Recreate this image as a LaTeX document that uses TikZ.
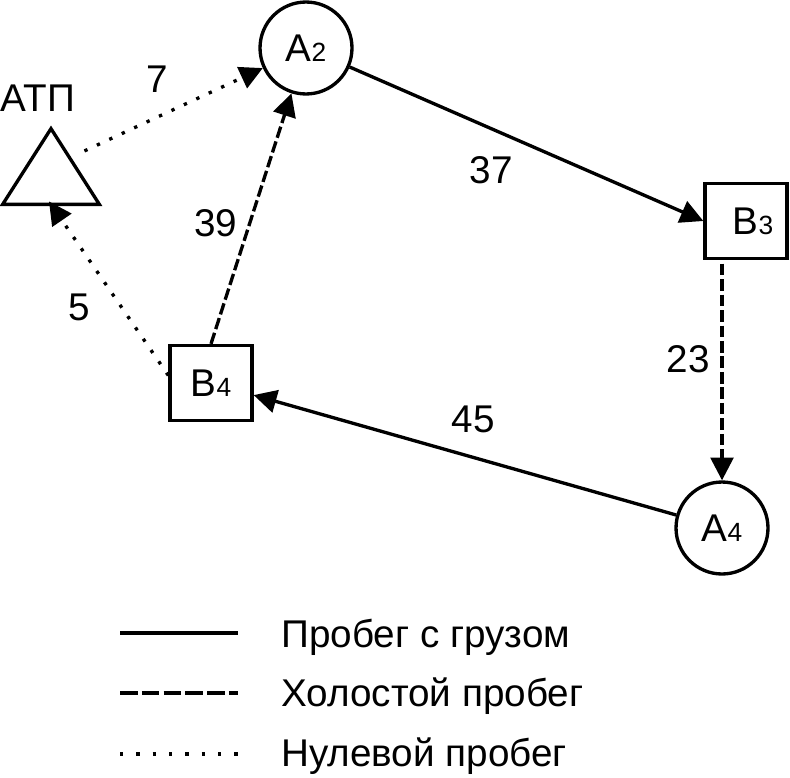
\documentclass[tikz,border=0pt]{standalone}
\usepackage{fontspec}
\setmainfont{Liberation Sans}
\usepackage{tikz}
\usetikzlibrary{
    arrows.meta,
    positioning
}
\newcommand{\nsub}[1]{{\fontsize{15pt}{17pt}\selectfont #1}}

\tikzset{
    point/.style={circle, draw, line width=1.9pt, minimum size=1.84cm, inner sep=0pt},
    depot/.style={rectangle, draw, line width=1.9pt, minimum width=1.64cm, minimum height=1.5cm, inner sep=0pt},
    run/.style={line width=1.9pt, -{Triangle[length=13pt, width=13pt]}},
    loaded/.style={run},
    idle/.style={run, dash pattern=on 6.6pt off 2.2pt},
    zero/.style={run, dash pattern=on 1.9pt off 5.9pt},
    dist/.style={inner sep=0pt}
}

\begin{document}
\begin{tikzpicture}[x=0.02cm, y=-0.02cm, font=\fontsize{22pt}{26pt}\selectfont]
                                \useasboundingbox (0, 0) rectangle (790, 777);
                                \node[point] (A2) at (306, 48) {А\nsub{2}};
                                \node[depot] (B3) at (746, 221) {\hspace{8pt}В\nsub{3}};
                                \node[depot] (B4) at (211, 383) {В\nsub{4}};
                                \node[point] (A4) at (722, 528) {А\nsub{4}};
                                \node[minimum width=1.92cm, minimum height=1.5cm, inner sep=0pt] (atp) at (51, 166.5) {};
                                \draw[line width=1.9pt] (atp.south west) -- (atp.south east) -- (atp.north) -- cycle;
                                \node (atpname) at (38, 98) {АТП};
                                \draw
                                (atp.center) edge[zero, shorten <=21pt] node[dist, pos=.5, above=13pt]{7} (A2)
                                (A2) edge[loaded] node[dist, pos=.4, below=15pt]{37} (B3.west)
                                (A4 |- B3.south) edge[idle, shorten <=2pt] node[dist, pos=.45, left=6pt]{23} (A4)
                                (A4) edge[loaded] node[dist, pos=.48, above=13pt]{45} (B4)
                                (B4.north) edge[idle] node[dist, pos=.48, left=6pt]{39} (A2)
                                (B4.170) edge[zero, shorten >=-2pt] node[dist, pos=.4, left=17pt]{5} (atp.south);
                                % legend
                                \draw[line width=2.2pt] (120, 633) -- (238, 633);
                                \draw[line width=2.2pt, dash pattern=on 10pt off 2.4pt] (120, 693) -- (238, 693);
                                \draw[line width=1.9pt, dash pattern=on 1.9pt off 7.4pt] (120, 754) -- (240, 754);
                                \node[anchor=base west, inner sep=0pt] (loadtext) at (281, 647) {Пробег с грузом};
                                \node[anchor=base west, inner sep=0pt] (idletext) at (281, 706) {Холостой пробег};
                                \node[anchor=base west, inner sep=0pt] (zerotext) at (281, 766) {Нулевой пробег};
                            \end{tikzpicture}
\end{document}
